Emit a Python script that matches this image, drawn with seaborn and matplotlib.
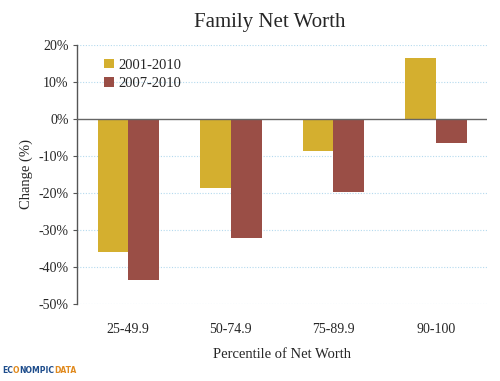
import matplotlib
matplotlib.use("Agg")
import matplotlib.pyplot as plt
import seaborn as sns
import pandas as pd
from matplotlib.ticker import FuncFormatter

categories = ["25-49.9", "50-74.9", "75-89.9", "90-100"]
series_names = ["2001-2010", "2007-2010"]
values_2001_2010 = [-35.9, -18.6, -8.6, 16.5]
values_2007_2010 = [-43.5, -32.2, -19.7, -6.5]
yticks = [20, 10, 0, -10, -20, -30, -40, -50]

df = pd.DataFrame({
    "cat": categories * 2,
    "series": [series_names[0]] * 4 + [series_names[1]] * 4,
    "val": values_2001_2010 + values_2007_2010,
})

sns.set_style("white")
plt.rcParams["font.family"] = ["Liberation Serif", "DejaVu Serif"]

fig = plt.figure(figsize=(5, 3.81), dpi=100)
ax = fig.add_axes([0.154, 0.202, 0.82, 0.680])

palette = {"2001-2010": "#D4AF2F", "2007-2010": "#9A4E46"}
sns.barplot(data=df, x="cat", y="val", hue="series", palette=palette,
            width=0.6, ax=ax, saturation=1, edgecolor="none")

ax.set_ylim(-50, 20)
ax.set_xlim(-0.5, 3.5)
ax.set_yticks(yticks)
ax.yaxis.set_major_formatter(FuncFormatter(lambda v, p: f"{int(v)}%"))
for y in yticks:
    if y != 0:
        ax.axhline(y, color="#B5DAEE", linestyle=(0, (1, 1.5)), linewidth=0.8, zorder=0)
ax.axhline(0, color="#666666", linewidth=1.0, zorder=3)

for s in ["top", "right", "bottom"]:
    ax.spines[s].set_visible(False)
ax.spines["left"].set_color("#555555")
ax.spines["left"].set_linewidth(1.0)
ax.tick_params(axis="y", length=3, color="#555555", labelsize=10, pad=3, direction="out", left=True)
ax.tick_params(axis="x", length=0, labelsize=10, pad=14)

ax.set_xlabel("Percentile of Net Worth", fontsize=10.5, labelpad=8)
ax.set_ylabel("Change (%)", fontsize=10.5, labelpad=4)
fig.text(0.54, 0.94, "Family Net Worth", ha="center", va="center", fontsize=15)

leg = ax.legend(loc="upper left", bbox_to_anchor=(0.035, 0.998), frameon=False,
                prop={"size": 10.5}, handlelength=0.65, handleheight=0.65, handletextpad=0.3,
                labelspacing=0.4)
for lh in leg.legend_handles:
    lh.set_edgecolor("none")

parts = [("EC", "#1E4D8C"), ("O", "#E08A1E"), ("NOMPIC", "#1E4D8C"), ("DATA", "#E08A1E")]
prev = fig.text(0.004, 0.02, parts[0][0], color=parts[0][1], fontsize=5.5,
                fontweight="bold", family="DejaVu Sans")
for txt, col in parts[1:]:
    prev = ax.annotate(txt, xy=(1, 0), xycoords=prev, va="bottom", ha="left", color=col,
                       fontsize=5.5, fontweight="bold", family="DejaVu Sans",
                       annotation_clip=False)

fig.savefig("out.png", dpi=100)
